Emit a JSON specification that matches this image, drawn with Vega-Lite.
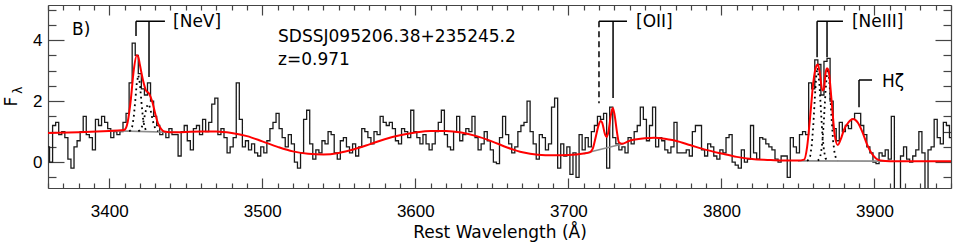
{
  "$schema": "https://vega.github.io/schema/vega-lite/v6.json",
  "width": 903,
  "height": 183,
  "autosize": {"type": "none"},
  "padding": {"left": 48, "top": 5, "right": 18, "bottom": 61},
  "config": {
    "view": {"stroke": null},
    "axis": {"domainColor": "#444", "tickColor": "#444", "domainWidth": 1.2, "tickWidth": 1.2, "grid": false, "labelFont": "Liberation Sans", "titleFont": "DejaVu Sans", "labelColor": "#000", "titleColor": "#000", "titleFontWeight": "normal", "labelOverlap": false, "labelFlush": false}
  },
  "datasets": {
    "spec": [
      {"w":3360,"f":0.5},{"w":3362,"f":0.0},{"w":3364,"f":1.2},{"w":3366,"f":1.3},{"w":3368,"f":0.9},{"w":3370,"f":1.0},{"w":3372,"f":0.8},{"w":3374,"f":0.1},{"w":3376,"f":-0.2},{"w":3378,"f":0.5},
      {"w":3380,"f":0.7},{"w":3382,"f":1.0},{"w":3384,"f":1.5},{"w":3386,"f":0.9},{"w":3388,"f":0.8},{"w":3390,"f":0.4},{"w":3392,"f":1.4},{"w":3394,"f":1.2},{"w":3396,"f":1.5},{"w":3398,"f":1.3},
      {"w":3400,"f":1.1},{"w":3402,"f":0.8},{"w":3404,"f":1.0},{"w":3406,"f":0.9},{"w":3408,"f":1.0},{"w":3410,"f":1.3},{"w":3412,"f":1.6},{"w":3414,"f":2.6},{"w":3416,"f":3.9},{"w":3418,"f":3.5},
      {"w":3420,"f":2.9},{"w":3422,"f":2.4},{"w":3424,"f":2.2},{"w":3426,"f":2.6},{"w":3428,"f":2.0},{"w":3430,"f":1.5},{"w":3432,"f":1.2},{"w":3434,"f":0.9},{"w":3436,"f":1.0},{"w":3438,"f":0.8},
      {"w":3440,"f":1.1},{"w":3442,"f":0.9},{"w":3444,"f":0.9},{"w":3446,"f":0.2},{"w":3448,"f":1.0},{"w":3450,"f":1.2},{"w":3452,"f":0.7},{"w":3454,"f":0.4},{"w":3456,"f":1.1},{"w":3458,"f":1.2},
      {"w":3460,"f":0.9},{"w":3462,"f":1.4},{"w":3464,"f":1.0},{"w":3466,"f":1.3},{"w":3468,"f":1.9},{"w":3470,"f":2.1},{"w":3472,"f":0.9},{"w":3474,"f":1.1},{"w":3476,"f":0.8},{"w":3478,"f":0.3},
      {"w":3480,"f":0.5},{"w":3482,"f":0.8},{"w":3484,"f":2.6},{"w":3486,"f":1.4},{"w":3488,"f":0.5},{"w":3490,"f":0.7},{"w":3492,"f":0.4},{"w":3494,"f":0.6},{"w":3496,"f":0.3},{"w":3498,"f":0.2},
      {"w":3500,"f":0.5},{"w":3502,"f":0.3},{"w":3504,"f":0.7},{"w":3506,"f":1.1},{"w":3508,"f":1.3},{"w":3510,"f":1.6},{"w":3512,"f":1.1},{"w":3514,"f":0.8},{"w":3516,"f":0.5},{"w":3518,"f":0.9},
      {"w":3520,"f":0.6},{"w":3522,"f":0.0},{"w":3524,"f":-0.2},{"w":3526,"f":0.3},{"w":3528,"f":1.4},{"w":3530,"f":1.7},{"w":3532,"f":0.6},{"w":3534,"f":0.1},{"w":3536,"f":0.4},{"w":3538,"f":0.3},
      {"w":3540,"f":0.7},{"w":3542,"f":0.6},{"w":3544,"f":1.0},{"w":3546,"f":0.9},{"w":3548,"f":0.3},{"w":3550,"f":0.1},{"w":3552,"f":0.7},{"w":3554,"f":0.8},{"w":3556,"f":0.5},{"w":3558,"f":0.3},
      {"w":3560,"f":0.6},{"w":3562,"f":0.2},{"w":3564,"f":0.5},{"w":3566,"f":1.1},{"w":3568,"f":1.0},{"w":3570,"f":0.8},{"w":3572,"f":0.6},{"w":3574,"f":1.0},{"w":3576,"f":0.9},{"w":3578,"f":1.5},
      {"w":3580,"f":1.3},{"w":3582,"f":1.2},{"w":3584,"f":1.3},{"w":3586,"f":1.1},{"w":3588,"f":0.7},{"w":3590,"f":0.6},{"w":3592,"f":1.1},{"w":3594,"f":1.0},{"w":3596,"f":0.8},{"w":3598,"f":1.7},
      {"w":3600,"f":1.0},{"w":3602,"f":0.8},{"w":3604,"f":0.6},{"w":3606,"f":0.9},{"w":3608,"f":0.6},{"w":3610,"f":0.4},{"w":3612,"f":0.6},{"w":3614,"f":1.0},{"w":3616,"f":1.3},{"w":3618,"f":1.7},
      {"w":3620,"f":0.9},{"w":3622,"f":0.5},{"w":3624,"f":0.4},{"w":3626,"f":1.0},{"w":3628,"f":1.5},{"w":3630,"f":0.7},{"w":3632,"f":0.9},{"w":3634,"f":1.1},{"w":3636,"f":1.0},{"w":3638,"f":1.5},
      {"w":3640,"f":0.8},{"w":3642,"f":0.4},{"w":3644,"f":0.6},{"w":3646,"f":1.0},{"w":3648,"f":0.7},{"w":3650,"f":0.4},{"w":3652,"f":0.0},{"w":3654,"f":-0.05},{"w":3656,"f":0.8},{"w":3658,"f":1.5},
      {"w":3660,"f":0.9},{"w":3662,"f":0.6},{"w":3664,"f":0.3},{"w":3666,"f":0.5},{"w":3668,"f":1.0},{"w":3670,"f":1.2},{"w":3672,"f":1.3},{"w":3674,"f":2.0},{"w":3676,"f":1.0},{"w":3678,"f":0.6},
      {"w":3680,"f":0.1},{"w":3682,"f":0.9},{"w":3684,"f":0.8},{"w":3686,"f":0.4},{"w":3688,"f":0.6},{"w":3690,"f":1.8},{"w":3692,"f":2.1},{"w":3694,"f":-0.2},{"w":3696,"f":0.6},{"w":3698,"f":0.2},
      {"w":3700,"f":0.5},{"w":3702,"f":-0.4},{"w":3704,"f":0.3},{"w":3706,"f":-0.5},{"w":3708,"f":0.9},{"w":3710,"f":0.4},{"w":3712,"f":0.8},{"w":3714,"f":0.5},{"w":3716,"f":1.0},{"w":3718,"f":1.2},
      {"w":3720,"f":1.5},{"w":3722,"f":1.4},{"w":3724,"f":1.6},{"w":3726,"f":-0.2},{"w":3728,"f":1.8},{"w":3730,"f":0.8},{"w":3732,"f":0.6},{"w":3734,"f":0.4},{"w":3736,"f":0.5},{"w":3738,"f":0.3},
      {"w":3740,"f":0.8},{"w":3742,"f":0.6},{"w":3744,"f":1.0},{"w":3746,"f":1.2},{"w":3748,"f":1.8},{"w":3750,"f":1.4},{"w":3752,"f":0.7},{"w":3754,"f":1.2},{"w":3756,"f":1.8},{"w":3758,"f":0.5},
      {"w":3760,"f":0.8},{"w":3762,"f":0.7},{"w":3764,"f":0.4},{"w":3766,"f":0.3},{"w":3768,"f":0.5},{"w":3770,"f":1.3},{"w":3772,"f":0.3},{"w":3774,"f":0.3},{"w":3776,"f":0.3},{"w":3778,"f":0.4},
      {"w":3780,"f":0.2},{"w":3782,"f":1.0},{"w":3784,"f":1.2},{"w":3786,"f":1.2},{"w":3788,"f":0.4},{"w":3790,"f":0.2},{"w":3792,"f":0.6},{"w":3794,"f":0.5},{"w":3796,"f":0.2},{"w":3798,"f":0.1},
      {"w":3800,"f":0.4},{"w":3802,"f":0.3},{"w":3804,"f":0.8},{"w":3806,"f":0.9},{"w":3808,"f":0.0},{"w":3810,"f":-0.1},{"w":3812,"f":-0.2},{"w":3814,"f":0.4},{"w":3816,"f":0.0},{"w":3818,"f":0.1},
      {"w":3820,"f":1.2},{"w":3822,"f":0.3},{"w":3824,"f":0.1},{"w":3826,"f":0.8},{"w":3828,"f":0.75},{"w":3830,"f":0.6},{"w":3832,"f":0.5},{"w":3834,"f":0.4},{"w":3836,"f":0.1},{"w":3838,"f":0.0},
      {"w":3840,"f":0.2},{"w":3842,"f":0.2},{"w":3844,"f":-0.5},{"w":3846,"f":0.8},{"w":3848,"f":0.5},{"w":3850,"f":0.3},{"w":3852,"f":0.9},{"w":3854,"f":1.0},{"w":3856,"f":0.9},{"w":3858,"f":2.6},
      {"w":3860,"f":2.4},{"w":3862,"f":3.35},{"w":3864,"f":3.2},{"w":3866,"f":2.2},{"w":3868,"f":3.3},{"w":3870,"f":3.4},{"w":3872,"f":2.0},{"w":3874,"f":1.1},{"w":3876,"f":0.7},{"w":3878,"f":1.3},
      {"w":3880,"f":1.0},{"w":3882,"f":1.2},{"w":3884,"f":1.1},{"w":3886,"f":1.4},{"w":3888,"f":1.6},{"w":3890,"f":1.6},{"w":3892,"f":1.2},{"w":3894,"f":0.9},{"w":3896,"f":0.5},{"w":3898,"f":0.3},
      {"w":3900,"f":0.0},{"w":3902,"f":-0.05},{"w":3904,"f":0.3},{"w":3906,"f":0.2},{"w":3908,"f":0.4},{"w":3910,"f":0.1},{"w":3912,"f":1.5},{"w":3914,"f":-1.0},{"w":3916,"f":-1.0},{"w":3918,"f":0.2},
      {"w":3920,"f":0.5},{"w":3922,"f":0.1},{"w":3924,"f":0.0},{"w":3926,"f":0.2},{"w":3928,"f":0.4},{"w":3930,"f":1.0},{"w":3932,"f":0.3},{"w":3934,"f":-0.9},{"w":3936,"f":0.4},{"w":3938,"f":0.5},
      {"w":3940,"f":1.4},{"w":3942,"f":0.8},{"w":3944,"f":0.6},{"w":3946,"f":1.3},{"w":3948,"f":1.2},{"w":3950,"f":0.8}
    ],
    "model": [
      {"w":3360,"f":0.95},{"w":3380,"f":0.98},{"w":3400,"f":1.02},{"w":3408,"f":1.04},{"w":3410,"f":1.06},{"w":3412,"f":1.3},{"w":3414,"f":2.0},{"w":3416,"f":3.0},{"w":3418,"f":3.5},{"w":3419,"f":3.45},
      {"w":3420,"f":3.2},{"w":3422,"f":2.7},{"w":3424,"f":2.35},{"w":3426,"f":2.25},{"w":3428,"f":2.0},{"w":3430,"f":1.6},{"w":3432,"f":1.25},{"w":3434,"f":1.08},{"w":3436,"f":1.0},{"w":3440,"f":0.98},
      {"w":3460,"f":1.0},{"w":3470,"f":1.0},{"w":3480,"f":0.95},{"w":3490,"f":0.85},{"w":3500,"f":0.68},{"w":3510,"f":0.5},{"w":3520,"f":0.35},{"w":3530,"f":0.27},{"w":3540,"f":0.25},{"w":3550,"f":0.3},
      {"w":3560,"f":0.42},{"w":3570,"f":0.58},{"w":3580,"f":0.75},{"w":3590,"f":0.88},{"w":3600,"f":0.97},{"w":3610,"f":1.02},{"w":3620,"f":1.02},{"w":3630,"f":0.97},{"w":3640,"f":0.85},{"w":3650,"f":0.68},
      {"w":3660,"f":0.48},{"w":3670,"f":0.32},{"w":3680,"f":0.24},{"w":3690,"f":0.22},{"w":3700,"f":0.23},{"w":3710,"f":0.28},{"w":3714,"f":0.32},{"w":3716,"f":0.45},{"w":3718,"f":0.85},{"w":3720,"f":1.25},
      {"w":3721,"f":1.35},{"w":3722,"f":1.3},{"w":3724,"f":0.9},{"w":3725,"f":0.82},{"w":3726,"f":0.95},{"w":3728,"f":1.6},{"w":3729,"f":1.77},{"w":3730,"f":1.6},{"w":3732,"f":0.9},{"w":3733,"f":0.65},
      {"w":3735,"f":0.6},{"w":3740,"f":0.7},{"w":3750,"f":0.78},{"w":3756,"f":0.8},{"w":3760,"f":0.78},{"w":3770,"f":0.7},{"w":3780,"f":0.55},{"w":3790,"f":0.4},{"w":3800,"f":0.28},{"w":3810,"f":0.17},
      {"w":3820,"f":0.1},{"w":3830,"f":0.07},{"w":3840,"f":0.05},{"w":3850,"f":0.05},{"w":3854,"f":0.08},{"w":3856,"f":0.5},{"w":3858,"f":1.5},{"w":3860,"f":2.6},{"w":3862,"f":3.15},{"w":3863,"f":3.2},
      {"w":3864,"f":3.0},{"w":3866,"f":2.35},{"w":3867,"f":2.4},{"w":3868,"f":2.9},{"w":3869,"f":3.08},{"w":3870,"f":3.0},{"w":3872,"f":2.0},{"w":3874,"f":0.9},{"w":3876,"f":0.56},{"w":3878,"f":0.75},
      {"w":3880,"f":1.05},{"w":3883,"f":1.3},{"w":3886,"f":1.41},{"w":3889,"f":1.3},{"w":3892,"f":1.0},{"w":3895,"f":0.6},{"w":3898,"f":0.3},{"w":3901,"f":0.12},{"w":3904,"f":0.05},{"w":3910,"f":0.03},
      {"w":3950,"f":0.03}
    ],
    "cont": [
      {"s":"a","w":3400,"f":1.03},{"s":"a","w":3445,"f":0.97},
      {"s":"b","w":3710,"f":0.28},{"s":"b","w":3736,"f":0.6},
      {"s":"c","w":3850,"f":0.04},{"s":"c","w":3910,"f":0.03}
    ],
    "comp": [
      {"c":"n1","w":3413,"f":1.01},{"c":"n1","w":3414,"f":1.04},{"c":"n1","w":3415,"f":1.16},{"c":"n1","w":3416,"f":1.46},{"c":"n1","w":3417,"f":2.0},{"c":"n1","w":3418,"f":2.59},{"c":"n1","w":3419,"f":2.85},{"c":"n1","w":3420,"f":2.59},{"c":"n1","w":3421,"f":2.0},{"c":"n1","w":3422,"f":1.46},{"c":"n1","w":3423,"f":1.16},{"c":"n1","w":3424,"f":1.04},{"c":"n1","w":3425,"f":1.01},
      {"c":"n2","w":3419,"f":1.01},{"c":"n2","w":3420,"f":1.04},{"c":"n2","w":3421,"f":1.11},{"c":"n2","w":3422,"f":1.25},{"c":"n2","w":3423,"f":1.47},{"c":"n2","w":3424,"f":1.71},{"c":"n2","w":3425,"f":1.88},{"c":"n2","w":3425.5,"f":1.9},{"c":"n2","w":3426,"f":1.88},{"c":"n2","w":3427,"f":1.71},{"c":"n2","w":3428,"f":1.47},{"c":"n2","w":3429,"f":1.25},{"c":"n2","w":3430,"f":1.11},{"c":"n2","w":3431,"f":1.04},{"c":"n2","w":3432,"f":1.01},
      {"c":"e1","w":3856,"f":0.04},{"c":"e1","w":3857,"f":0.08},{"c":"e1","w":3858,"f":0.2},{"c":"e1","w":3859,"f":0.54},{"c":"e1","w":3860,"f":1.18},{"c":"e1","w":3861,"f":2.08},{"c":"e1","w":3862,"f":2.86},{"c":"e1","w":3862.8,"f":3.1},{"c":"e1","w":3864,"f":2.59},{"c":"e1","w":3865,"f":1.71},{"c":"e1","w":3866,"f":0.88},{"c":"e1","w":3867,"f":0.37},{"c":"e1","w":3868,"f":0.13},{"c":"e1","w":3869,"f":0.055},{"c":"e1","w":3870,"f":0.035},
      {"c":"e2","w":3863,"f":0.045},{"c":"e2","w":3864,"f":0.1},{"c":"e2","w":3865,"f":0.27},{"c":"e2","w":3866,"f":0.68},{"c":"e2","w":3867,"f":1.41},{"c":"e2","w":3868,"f":2.31},{"c":"e2","w":3869,"f":2.96},{"c":"e2","w":3869.5,"f":3.05},{"c":"e2","w":3870,"f":2.96},{"c":"e2","w":3871,"f":2.31},{"c":"e2","w":3872,"f":1.41},{"c":"e2","w":3873,"f":0.68},{"c":"e2","w":3874,"f":0.27},{"c":"e2","w":3875,"f":0.1},{"c":"e2","w":3876,"f":0.045}
    ],
    "ticks": [
      {"w":3417.5,"w2":3417.5,"f":4.62,"f2":4.13,"st":"solid"},
      {"w":3426,"w2":3426,"f":4.62,"f2":2.79,"st":"solid"},
      {"w":3417.5,"w2":3436.4,"f":4.62,"f2":4.62,"st":"solid"},
      {"w":3720,"w2":3720,"f":4.62,"f2":1.93,"st":"dashed"},
      {"w":3729.2,"w2":3729.2,"f":4.62,"f2":2.1,"st":"solid"},
      {"w":3720,"w2":3738.3,"f":4.62,"f2":4.62,"st":"solid"},
      {"w":3862.5,"w2":3862.5,"f":4.62,"f2":3.44,"st":"solid"},
      {"w":3869,"w2":3869,"f":4.62,"f2":3.44,"st":"solid"},
      {"w":3862.5,"w2":3879.4,"f":4.62,"f2":4.62,"st":"solid"},
      {"w":3889.9,"w2":3889.9,"f":2.69,"f2":1.8,"st":"solid"},
      {"w":3889.9,"w2":3898.4,"f":2.69,"f2":2.69,"st":"solid"}
    ],
    "labels": [
      {"w":3375.7,"f":4.33,"t":"B)"},
      {"w":3441.7,"f":4.59,"t":"[NeV]"},
      {"w":3510.3,"f":4.1,"t":"SDSSJ095206.38+235245.2"},
      {"w":3510.3,"f":3.34,"t":"z=0.971"},
      {"w":3744.2,"f":4.59,"t":"[OII]"},
      {"w":3885.3,"f":4.59,"t":"[NeIII]"},
      {"w":3904.9,"f":2.62,"t":"Hζ"}
    ],
    "sub": [
      {"w":3340.5,"f":2.36,"t":"λ"}
    ]
  },
  "resolve": {"axis": {"x": "independent", "y": "independent"}},
  "layer": [
    {
      "data": {"name": "spec"},
      "mark": {"type": "line", "interpolate": "step", "color": "#1a1a1a", "strokeWidth": 1.3, "clip": true},
      "encoding": {
        "x": {"field": "w", "type": "quantitative", "scale": {"domain": [3360, 3950], "nice": false, "zero": false},
          "axis": {"orient": "bottom", "values": [3360,3370,3380,3390,3400,3410,3420,3430,3440,3450,3460,3470,3480,3490,3500,3510,3520,3530,3540,3550,3560,3570,3580,3590,3600,3610,3620,3630,3640,3650,3660,3670,3680,3690,3700,3710,3720,3730,3740,3750,3760,3770,3780,3790,3800,3810,3820,3830,3840,3850,3860,3870,3880,3890,3900,3910,3920,3930,3940,3950],
            "format": "d", "labelExpr": "datum.value % 100 === 0 ? datum.label : ''",
            "tickSize": {"condition": {"test": "datum.value % 100 === 0", "value": -10}, "value": -5},
            "labelPadding": 25, "labelFontSize": 17, "labelBaseline": "top",
            "title": "Rest Wavelength (Å)", "titleFontSize": 17, "titleY": 44, "titleBaseline": "middle"}},
        "y": {"field": "f", "type": "quantitative", "scale": {"domain": [-0.85, 5.15], "nice": false, "zero": false},
          "axis": {"orient": "left", "values": [-0.5,0,0.5,1,1.5,2,2.5,3,3.5,4,4.5,5],
            "labelExpr": "datum.value % 2 === 0 ? format(datum.value, 'd') : ''",
            "tickSize": {"condition": {"test": "datum.value % 2 === 0", "value": -16}, "value": -8},
            "labelPadding": 22, "labelFontSize": 17, "labelAlign": "right", "labelBaseline": "middle",
            "title": "F", "titleFontSize": 17, "titleAngle": 270, "titleX": -37, "titleY": 96, "titleAlign": "center", "titleBaseline": "middle"}}
      }
    },
    {
      "data": {"name": "cont"},
      "mark": {"type": "line", "color": "#8c8c8c", "strokeWidth": 1.6},
      "encoding": {
        "x": {"field": "w", "type": "quantitative", "axis": null},
        "y": {"field": "f", "type": "quantitative", "axis": null},
        "detail": {"field": "s"}
      }
    },
    {
      "data": {"name": "comp"},
      "mark": {"type": "line", "color": "#000", "strokeWidth": 1.8, "strokeDash": [1.8, 3.5]},
      "encoding": {
        "x": {"field": "w", "type": "quantitative", "axis": null},
        "y": {"field": "f", "type": "quantitative", "axis": null},
        "detail": {"field": "c"}
      }
    },
    {
      "data": {"name": "model"},
      "mark": {"type": "line", "color": "#ff0000", "strokeWidth": 2, "interpolate": "monotone"},
      "encoding": {
        "x": {"field": "w", "type": "quantitative",
          "axis": {"orient": "top", "values": [3360,3370,3380,3390,3400,3410,3420,3430,3440,3450,3460,3470,3480,3490,3500,3510,3520,3530,3540,3550,3560,3570,3580,3590,3600,3610,3620,3630,3640,3650,3660,3670,3680,3690,3700,3710,3720,3730,3740,3750,3760,3770,3780,3790,3800,3810,3820,3830,3840,3850,3860,3870,3880,3890,3900,3910,3920,3930,3940,3950],
            "labels": false, "title": null,
            "tickSize": {"condition": {"test": "datum.value % 100 === 0", "value": -10}, "value": -5}}},
        "y": {"field": "f", "type": "quantitative",
          "axis": {"orient": "right", "values": [-0.5,0,0.5,1,1.5,2,2.5,3,3.5,4,4.5,5],
            "labels": false, "title": null,
            "tickSize": {"condition": {"test": "datum.value % 2 === 0", "value": -16}, "value": -8}}}
      }
    },
    {
      "data": {"name": "ticks"},
      "mark": {"type": "rule", "color": "#000", "strokeWidth": 1.5},
      "encoding": {
        "x": {"field": "w", "type": "quantitative", "axis": null},
        "x2": {"field": "w2"},
        "y": {"field": "f", "type": "quantitative", "axis": null},
        "y2": {"field": "f2"},
        "strokeDash": {"field": "st", "type": "nominal", "scale": {"domain": ["solid", "dashed"], "range": [[1, 0], [6, 4]]}, "legend": null}
      }
    },
    {
      "data": {"name": "labels"},
      "mark": {"type": "text", "align": "left", "baseline": "middle", "font": "DejaVu Sans", "fontSize": 17, "color": "#000"},
      "encoding": {
        "x": {"field": "w", "type": "quantitative", "axis": null},
        "y": {"field": "f", "type": "quantitative", "axis": null},
        "text": {"field": "t"}
      }
    },
    {
      "data": {"name": "sub"},
      "mark": {"type": "text", "align": "center", "baseline": "middle", "font": "DejaVu Sans", "fontSize": 12, "angle": 270, "color": "#000"},
      "encoding": {
        "x": {"field": "w", "type": "quantitative", "axis": null},
        "y": {"field": "f", "type": "quantitative", "axis": null},
        "text": {"field": "t"}
      }
    }
  ]
}
